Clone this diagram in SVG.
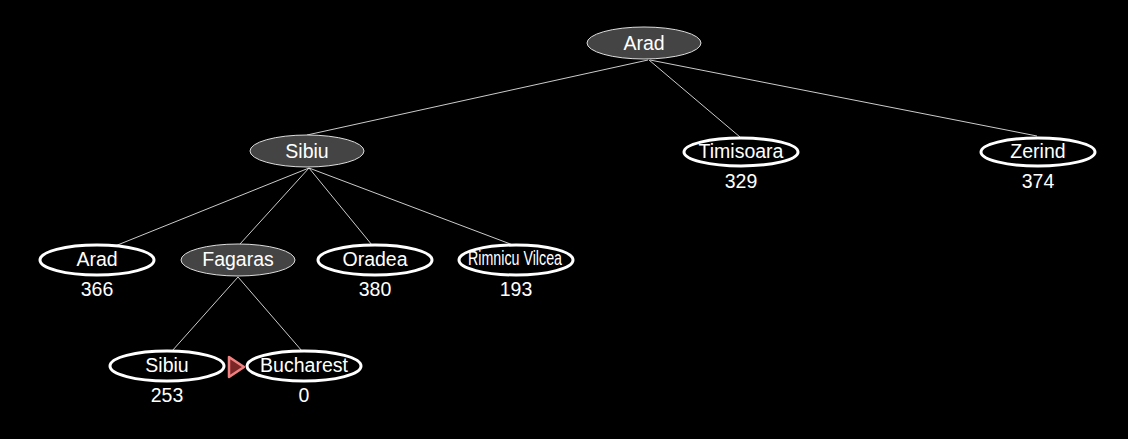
<svg xmlns="http://www.w3.org/2000/svg" width="1128" height="439" viewBox="0 0 1128 439">
<style>
.exp{fill:#444444;stroke:#dddddd;stroke-width:1}
.fr{fill:#000000;stroke:#ffffff;stroke-width:3}
text{font-family:"Liberation Sans",Arial,sans-serif;font-size:19.5px;fill:#ffffff;text-anchor:middle}
.e{stroke:#ffffff;stroke-width:0.8;fill:none}
</style>
<rect width="1128" height="439" fill="#000000"/>
<g id="connectors">
<line class="e" x1="648" y1="60" x2="307" y2="135"/>
<line class="e" x1="649" y1="60" x2="740" y2="137"/>
<line class="e" x1="650" y1="60" x2="1037" y2="136"/>
<line class="e" x1="309" y1="168" x2="115" y2="246"/>
<line class="e" x1="309" y1="168" x2="240" y2="244"/>
<line class="e" x1="309" y1="168" x2="372" y2="245"/>
<line class="e" x1="309" y1="168" x2="513" y2="245"/>
<line class="e" x1="238" y1="277" x2="172" y2="351"/>
<line class="e" x1="238" y1="277" x2="302" y2="351"/>
</g>
<g id="n-arad-root"><ellipse class="exp" cx="644" cy="43" rx="57" ry="16"/><text x="644" y="50">Arad</text></g>
<g id="n-sibiu"><ellipse class="exp" cx="307" cy="151" rx="57" ry="16"/><text x="307" y="158">Sibiu</text></g>
<g id="n-timisoara"><ellipse class="fr" cx="741" cy="152" rx="57" ry="14"/><text x="741" y="158">Timisoara</text><text x="741" y="188">329</text></g>
<g id="n-zerind"><ellipse class="fr" cx="1038" cy="152" rx="57" ry="14"/><text x="1038" y="158">Zerind</text><text x="1038" y="188">374</text></g>
<g id="n-arad"><ellipse class="fr" cx="97" cy="260" rx="57" ry="15"/><text x="97" y="266">Arad</text><text x="97" y="296">366</text></g>
<g id="n-fagaras"><ellipse class="exp" cx="238" cy="260" rx="57" ry="16"/><text x="238" y="266">Fagaras</text></g>
<g id="n-oradea"><ellipse class="fr" cx="375" cy="260" rx="57" ry="15"/><text x="375" y="266">Oradea</text><text x="375" y="296">380</text></g>
<g id="n-rimnicu"><ellipse class="fr" cx="516" cy="260" rx="57" ry="15"/><text x="515" y="265" font-size="17" textLength="94" lengthAdjust="spacingAndGlyphs">Rimnicu Vilcea</text><text x="516" y="296">193</text></g>
<g id="n-sibiu2"><ellipse class="fr" cx="167" cy="366" rx="57" ry="15"/><text x="167" y="372">Sibiu</text><text x="167" y="402">253</text></g>
<g id="n-bucharest"><ellipse class="fr" cx="304" cy="366" rx="57" ry="15"/><text x="304" y="372">Bucharest</text><text x="304" y="402">0</text></g>
<g id="marker-goal"><polygon points="229,357 229,377 244,367" fill="#7a2626" stroke="#f08080" stroke-width="2.5" stroke-linejoin="round"/></g>
</svg>
